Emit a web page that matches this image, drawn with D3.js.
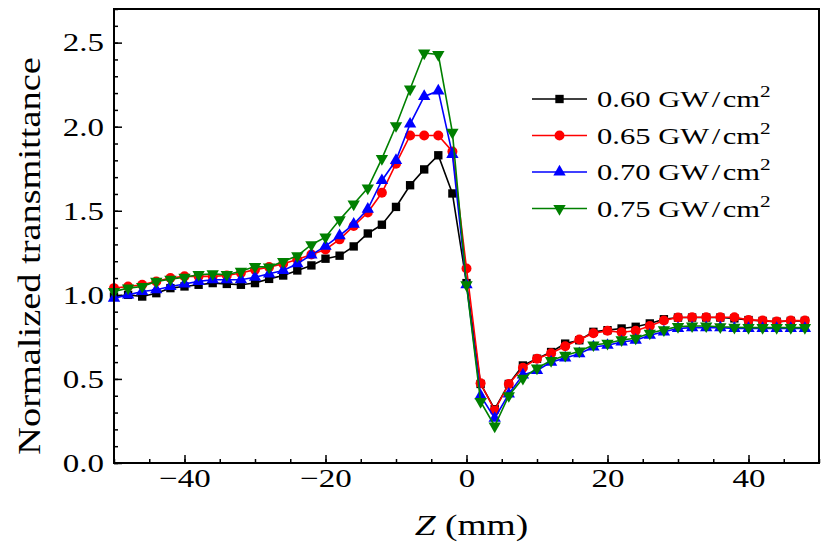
<!DOCTYPE html>
<html>
<head>
<meta charset="utf-8">
<script src="https://cdn.jsdelivr.net/npm/d3@7"></script>
<style>
  body { margin: 0; background: #fff; }
  svg { display: block; }
</style>
</head>
<body>
<svg id="chart" width="830" height="555"></svg>
<script>
const zValues = [-50,-48,-46,-44,-42,-40,-38,-36,-34,-32,-30,-28,-26,-24,-22,-20,-18,-16,-14,-12,-10,-8,-6,-4,-2,0,2,4,6,8,10,12,14,16,18,20,22,24,26,28,30,32,34,36,38,40,42,44,46,48];

const series060 = [0.99,1.00,0.99,1.01,1.04,1.05,1.06,1.07,1.065,1.06,1.07,1.095,1.115,1.145,1.175,1.215,1.233,1.288,1.365,1.417,1.523,1.652,1.746,1.83,1.603,1.07,0.47,0.32,0.47,0.58,0.62,0.66,0.71,0.73,0.78,0.79,0.80,0.81,0.83,0.855,0.865,0.865,0.865,0.865,0.86,0.85,0.845,0.84,0.845,0.845];
const series065 = [1.04,1.05,1.06,1.08,1.10,1.11,1.11,1.11,1.115,1.13,1.15,1.165,1.185,1.21,1.24,1.27,1.33,1.41,1.49,1.607,1.78,1.948,1.948,1.948,1.853,1.157,0.474,0.313,0.47,0.567,0.62,0.653,0.694,0.734,0.772,0.786,0.778,0.786,0.815,0.847,0.865,0.867,0.867,0.867,0.867,0.851,0.847,0.841,0.847,0.847];
const series070 = [0.98,1.00,1.02,1.03,1.05,1.065,1.08,1.09,1.09,1.09,1.105,1.125,1.145,1.185,1.238,1.29,1.352,1.42,1.51,1.68,1.80,2.016,2.18,2.213,1.835,1.06,0.40,0.266,0.41,0.524,0.55,0.60,0.625,0.65,0.69,0.70,0.72,0.73,0.76,0.78,0.80,0.805,0.805,0.805,0.80,0.80,0.80,0.80,0.80,0.80];
const series075 = [1.02,1.04,1.05,1.08,1.093,1.105,1.12,1.125,1.12,1.14,1.168,1.165,1.198,1.232,1.298,1.343,1.446,1.54,1.635,1.81,2.006,2.224,2.438,2.429,1.966,1.06,0.365,0.22,0.40,0.504,0.564,0.609,0.64,0.665,0.702,0.712,0.732,0.742,0.772,0.792,0.811,0.815,0.815,0.81,0.807,0.805,0.805,0.805,0.805,0.805];

const seriesLabels = ["0.60", "0.65", "0.70", "0.75"];
const seriesColors = ["#000000", "#ff0000", "#0000ff", "#008000"];
const seriesSymbols = ["square", "circle", "triangleUp", "triangleDown"];
const seriesData = [series060, series065, series070, series075];

const xTickValues = [-40, -20, 0, 20, 40];
const yTickValues = [0, 0.5, 1.0, 1.5, 2.0, 2.5];

const W = 830, H = 555;
const L = 114, R = 819, T = 9, B = 463;
const FONT = "'Liberation Serif', 'DejaVu Serif', serif";
const STRETCH = 1.27;

const svg = d3.select("#chart");
const x = d3.scaleLinear().domain([-50, 50]).range([L, R]);
const y = d3.scaleLinear().domain([0, 2.7]).range([B, T]);

function stretchText(sel, s) {
  sel.each(function () {
    const t = d3.select(this);
    const xx = +t.attr("x") || 0;
    t.attr("x", xx / s).attr("transform", `scale(${s},1)`);
  });
}

// minor ticks
const xMinor = d3.range(-50, 50.01, 5);
const yMinor = d3.range(0, 2.701, 0.1);

svg.append("g").attr("transform", `translate(0,${B})`)
  .call(d3.axisBottom(x).tickValues(xMinor).tickSize(-4).tickFormat(""))
  .call(g => g.select(".domain").remove())
  .selectAll("line").attr("stroke", "#000").attr("stroke-width", 1.5);
svg.append("g").attr("transform", `translate(${L},0)`)
  .call(d3.axisLeft(y).tickValues(yMinor).tickSize(-4).tickFormat(""))
  .call(g => g.select(".domain").remove())
  .selectAll("line").attr("stroke", "#000").attr("stroke-width", 1.5);

const xAxis = svg.append("g").attr("transform", `translate(0,${B})`)
  .call(d3.axisBottom(x).tickValues(xTickValues).tickSize(-8).tickPadding(6).tickFormat(d3.format("d")));
xAxis.select(".domain").remove();
xAxis.selectAll("line").attr("stroke", "#000").attr("stroke-width", 1.5);
xAxis.selectAll("text").attr("font-family", FONT).attr("font-size", 26).attr("fill", "#000")
  .call(stretchText, STRETCH);

const yAxis = svg.append("g").attr("transform", `translate(${L},0)`)
  .call(d3.axisLeft(y).tickValues(yTickValues).tickSize(-8).tickPadding(10).tickFormat(d3.format(".1f")));
yAxis.select(".domain").remove();
yAxis.selectAll("line").attr("stroke", "#000").attr("stroke-width", 1.5);
yAxis.selectAll("text").attr("font-family", FONT).attr("font-size", 26).attr("fill", "#000")
  .call(stretchText, STRETCH);

// series
const symMap = {
  square: d3.symbolSquare, circle: d3.symbolCircle,
  triangleUp: d3.symbolTriangle, triangleDown: d3.symbolTriangle
};
const symSize = { square: 70, circle: 78, triangleUp: 66, triangleDown: 66 };

const line = d3.line().x((d, i) => x(zValues[i])).y(d => y(d));

seriesData.forEach((vals, si) => {
  const g = svg.append("g");
  g.append("path").datum(vals)
    .attr("d", line).attr("fill", "none")
    .attr("stroke", seriesColors[si]).attr("stroke-width", 1.6);
  const sym = seriesSymbols[si];
  g.selectAll("path.m").data(vals).enter().append("path")
    .attr("class", "m")
    .attr("d", d3.symbol().type(symMap[sym]).size(symSize[sym]))
    .attr("transform", (d, i) => `translate(${x(zValues[i])},${y(d)})` + (sym === "triangleDown" ? " rotate(180)" : ""))
    .attr("fill", seriesColors[si]);
});

// frame
svg.append("rect").attr("x", L).attr("y", T).attr("width", R - L).attr("height", B - T)
  .attr("fill", "none").attr("stroke", "#000").attr("stroke-width", 2);

// legend
const legX = 532, legY0 = 99, legDy = 36.5;
seriesLabels.forEach((lab, si) => {
  const gy = legY0 + si * legDy;
  const g = svg.append("g");
  g.append("line").attr("x1", legX).attr("x2", legX + 55).attr("y1", gy).attr("y2", gy)
    .attr("stroke", seriesColors[si]).attr("stroke-width", 1.6);
  const sym = seriesSymbols[si];
  g.append("path")
    .attr("d", d3.symbol().type(symMap[sym]).size(symSize[sym]))
    .attr("transform", `translate(${legX + 27.5},${gy})` + (sym === "triangleDown" ? " rotate(180)" : ""))
    .attr("fill", seriesColors[si]);
  const tg = g.append("g").attr("transform", `translate(${legX + 65},${gy + 8}) scale(1.33,1)`);
  const t = tg.append("text").attr("x", 0).attr("y", 0)
    .attr("font-family", FONT).attr("font-size", 23).attr("fill", "#000");
  t.append("tspan").text(lab + " GW\u200a/\u200acm");
  t.append("tspan").attr("dy", -10).attr("font-size", 16).text("2");
});

// axis titles
svg.append("g").attr("transform", `translate(40,${(T + B) / 2 + 20}) rotate(-90) scale(1.2,1)`)
  .append("text")
  .attr("text-anchor", "middle")
  .attr("font-family", FONT).attr("font-size", 32).attr("fill", "#000")
  .text("Normalized transmittance");

const xt = svg.append("g").attr("transform", `translate(${x(0) + 5},535) scale(1.25,1)`)
  .append("text")
  .attr("text-anchor", "middle")
  .attr("font-family", FONT).attr("font-size", 30).attr("fill", "#000");
xt.append("tspan").attr("font-style", "italic").text("Z");
xt.append("tspan").text(" (mm)");
</script>
</body>
</html>
